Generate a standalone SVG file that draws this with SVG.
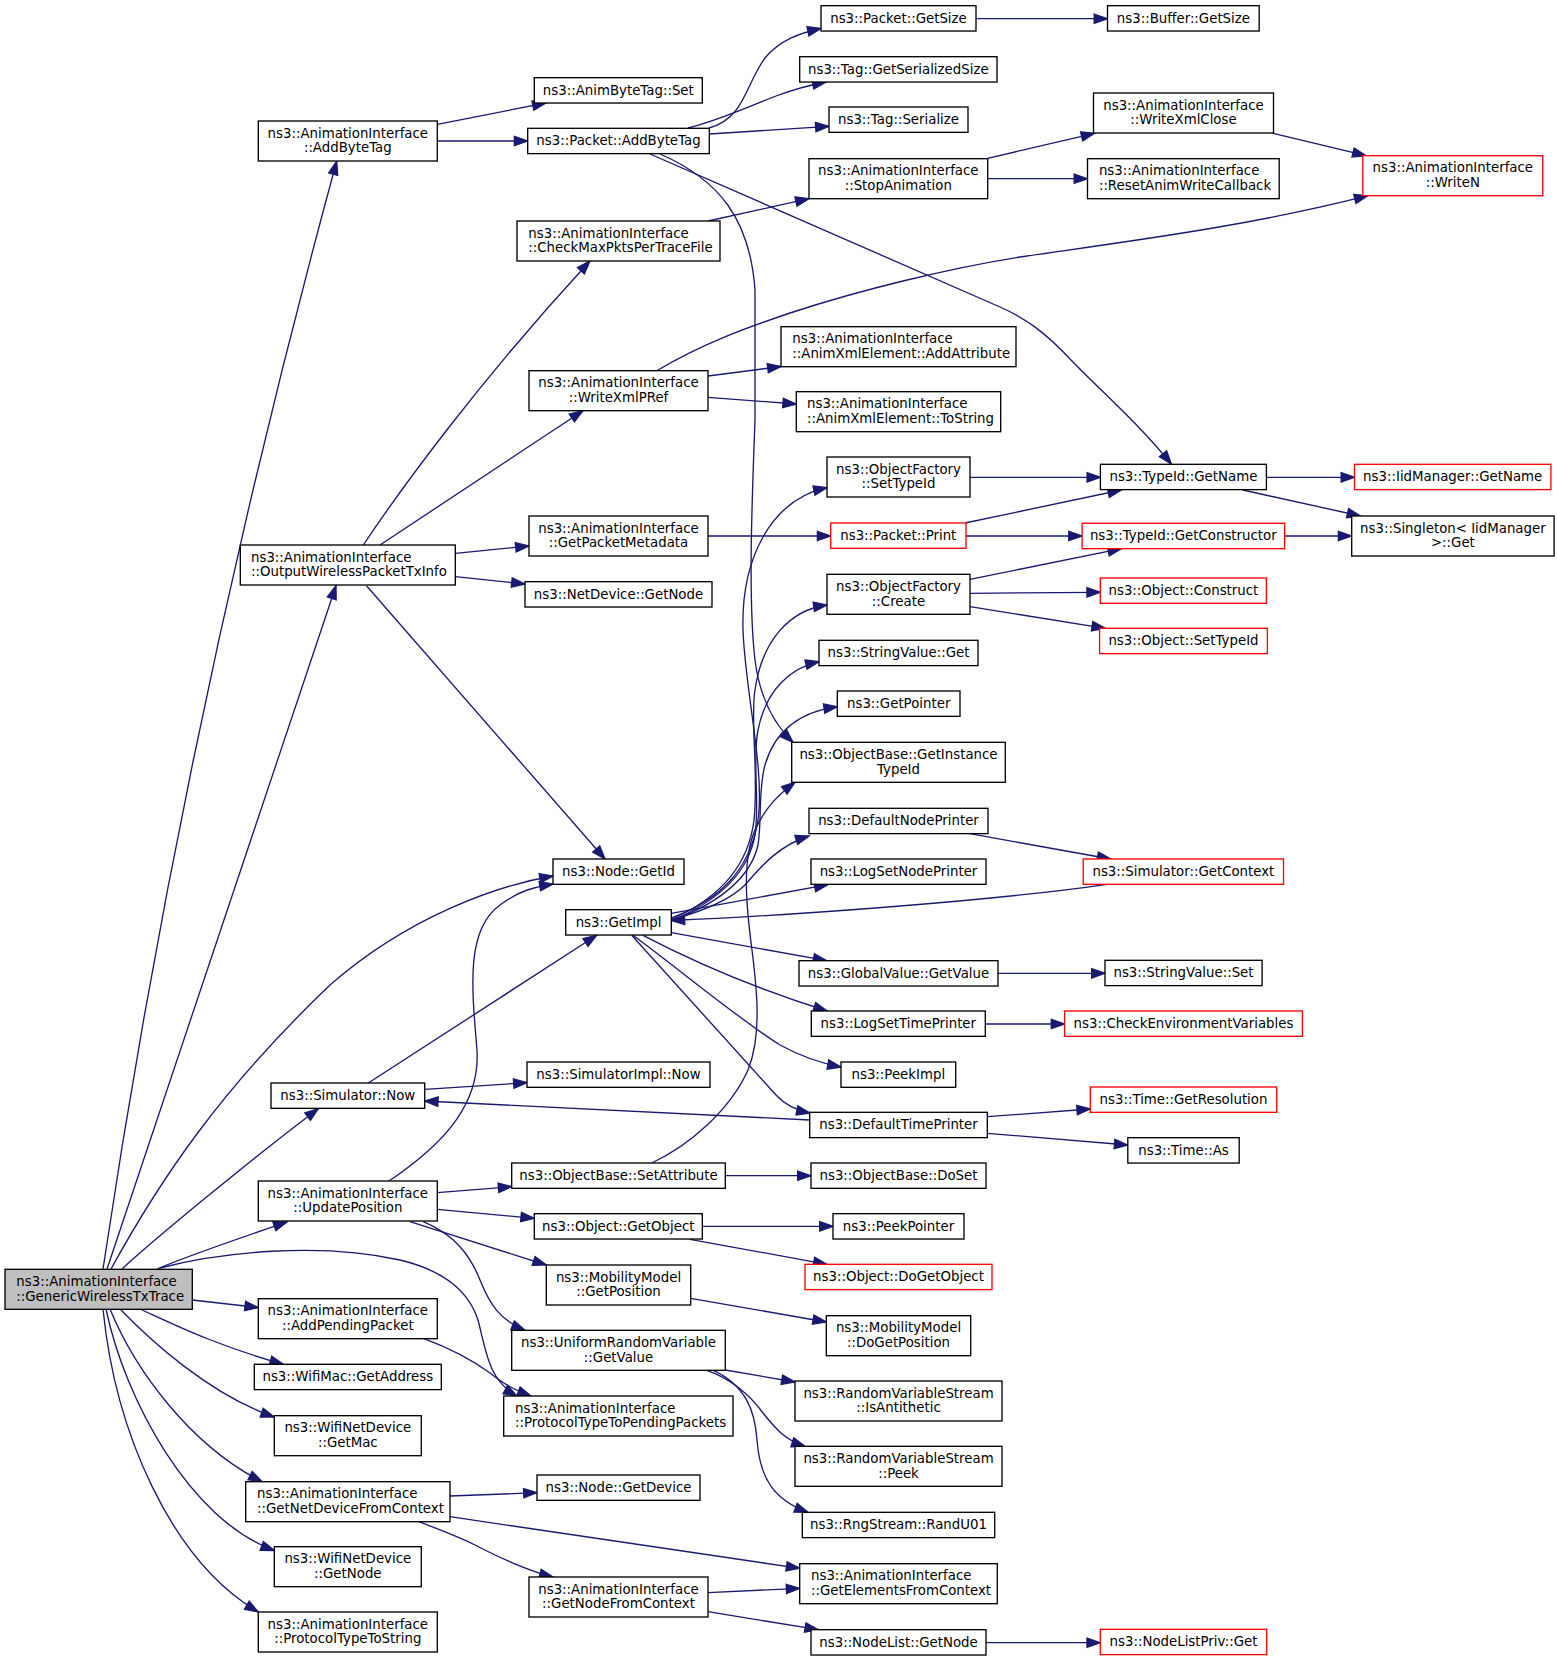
<svg xmlns="http://www.w3.org/2000/svg" width="1557" height="1661" viewBox="0 0 1557 1661">
<style>
.n rect{fill:#fff;stroke:#000;stroke-width:1.33}
.n.r rect{stroke:#ff0000}
.n.g rect{fill:#bfbfbf}
text{font-family:"DejaVu Sans","Liberation Sans",sans-serif;font-size:13.33px;fill:#000}
.c{text-anchor:middle}
#edges path{fill:none;stroke:#191970;stroke-width:1.33;marker-end:url(#a)}
</style>
<defs>
<marker id="a" markerUnits="userSpaceOnUse" markerWidth="16" markerHeight="12" viewBox="-1 -6 16 12" refX="13.33" refY="0" orient="auto" overflow="visible"><path d="M0,-4.67L13.33,0L0,4.67z" fill="#191970" stroke="#191970" stroke-width="1.33"/></marker>
</defs>
<rect width="1557" height="1661" fill="#fff"/>
<g id="edges">
<path d="M103,1269 C158,900 236,530 336.7,161.3"/>
<path d="M107,1269 L336,585.7"/>
<path d="M111,1269 C160,1180 220,1090 330,985 C410,915 500,885 553,876"/>
<path d="M122,1269 C150,1243 250,1160 318.3,1108.7"/>
<path d="M157,1269 C190,1255 240,1238 287,1222"/>
<path d="M160,1268 C220,1252 320,1242 400,1260 C450,1272 470,1295 478,1320 C486,1350 488,1380 517,1396"/>
<path d="M192.3,1300 L258.3,1307.5"/>
<path d="M140,1309 C175,1325 215,1345 283.3,1364.3"/>
<path d="M120,1309 C150,1340 210,1395 274.3,1417"/>
<path d="M110,1309 C135,1370 190,1445 262,1481.7"/>
<path d="M106,1309 C125,1400 190,1520 274.3,1550.5"/>
<path d="M103,1309 C115,1430 170,1560 258.3,1612"/>
<path d="M437.3,124.3 L546,103"/>
<path d="M437.3,141 L527.7,141"/>
<path d="M709,128 C745,118 745,85 765,58 C780,40 800,33 821,28.5"/>
<path d="M688,128 C720,120 745,108 776,96 C795,89 810,85 826,82"/>
<path d="M709.3,134 L829,126.3"/>
<path d="M660,154 C720,180 750,220 755,290 L755,420 C752,500 748,600 755,660 C760,700 775,725 793,742.3"/>
<path d="M650,154 L1000,307 C1025,318 1045,332 1071,360 C1105,395 1140,425 1171.4,464.3"/>
<path d="M708,221 L809,198.7"/>
<path d="M987.7,158.3 L1094.6,133.3"/>
<path d="M987.7,178.7 L1087.5,178.7"/>
<path d="M1273.2,133.3 L1366,155.7"/>
<path d="M656.7,370.7 C700,345 740,330 790,313 C860,290 950,268 1020,257 C1130,241 1250,226 1367.8,195.7"/>
<path d="M708,376 L781,366.5"/>
<path d="M708,397.3 L796.3,404"/>
<path d="M363.3,545 C400,490 480,380 590,261"/>
<path d="M380,545 L583,410.7"/>
<path d="M455.3,553.3 L529,546"/>
<path d="M455.3,576.7 L525,584"/>
<path d="M366.7,586 L605,859"/>
<path d="M708,536 L830.7,536"/>
<path d="M965,523 L1121.4,490"/>
<path d="M966,536 L1082.1,536"/>
<path d="M970,477.3 L1100.4,477.3"/>
<path d="M970,579.3 L1121.4,548.7"/>
<path d="M970,593.3 L1100.3,592.3"/>
<path d="M970,606.7 L1105.3,628.3"/>
<path d="M1266.4,477.3 L1354.5,477.3"/>
<path d="M1242.8,490 L1360.6,516"/>
<path d="M1284.6,536 L1351.7,536"/>
<path d="M976,18.7 L1107.5,18.7"/>
<path d="M671,918 C720,900 750,870 758,820 C765,770 745,690 743,630 C741,560 770,500 827,487.7"/>
<path d="M672,919 C715,900 748,870 754,820 C759,775 750,720 755,690 C762,640 790,610 827,605"/>
<path d="M673,920 C715,902 748,875 755,835 C760,800 752,760 758,730 C766,690 790,668 819,661.7"/>
<path d="M674,920 C715,904 750,880 758,845 C762,820 758,790 765,765 C775,730 800,712 837.3,706.7"/>
<path d="M671,920 C700,912 730,900 745,885 C762,865 780,845 809,836"/>
<path d="M671.3,913.3 L828,884.7"/>
<path d="M671.3,932.7 L826.7,960.7"/>
<path d="M643,935.3 C700,965 760,990 827,1011"/>
<path d="M633,935.3 C680,970 740,1020 780,1045 C800,1056 820,1063 841,1067"/>
<path d="M631.7,935.3 L776,1095 C785,1105 795,1110 810,1113"/>
<path d="M1107.1,884.3 C1000,900 800,915 671.3,920.5"/>
<path d="M368.3,1083 L596.7,935.3"/>
<path d="M424.7,1089.3 L527,1082.7"/>
<path d="M809.7,1120 L424.7,1101"/>
<path d="M987.3,1116.7 L1090.3,1109"/>
<path d="M987.3,1133.3 L1127.8,1145"/>
<path d="M970,833.7 L1110.7,859"/>
<path d="M998,973.3 L1105,973.3"/>
<path d="M985.3,1024 L1064.6,1024"/>
<path d="M389,1181 C450,1140 480,1100 477,1050 C472,990 465,930 500,905 C520,890 535,887 553,884"/>
<path d="M437.3,1192.7 L511.7,1186.7"/>
<path d="M437.3,1209.3 L534.3,1218.3"/>
<path d="M410,1221.7 L546.3,1265"/>
<path d="M423.3,1221.7 C455,1235 470,1255 480,1280 C490,1305 500,1320 525,1330.3"/>
<path d="M725.3,1175.7 L811,1175.7"/>
<path d="M651.7,1163 C690,1145 730,1110 748,1070 C762,1035 757,990 752,950 C746,905 742,860 755,830 C765,808 778,795 795,782.3"/>
<path d="M702.3,1226.3 L833,1226.3"/>
<path d="M690,1239.3 L827,1264.3"/>
<path d="M690.7,1298.3 L826.3,1322"/>
<path d="M725.3,1370 L795,1382"/>
<path d="M706.7,1370.3 C730,1378 750,1395 763,1413 C775,1428 785,1440 805,1446.3"/>
<path d="M713.3,1370.3 C745,1385 755,1410 757,1440 C760,1480 775,1500 808,1512.3"/>
<path d="M423.3,1338.3 C455,1350 475,1362 490,1373 C505,1385 515,1390 531,1396"/>
<path d="M450,1496 L537,1492.7"/>
<path d="M450,1516.7 L799.7,1568.3"/>
<path d="M418.3,1521.3 C440,1530 455,1535 475,1545 C500,1558 525,1570 553,1577"/>
<path d="M708,1592.7 L799.7,1588.3"/>
<path d="M708,1611.7 L818.3,1629.7"/>
<path d="M986,1642.7 L1100.3,1642.7"/>
</g>
<g id="n_generic" class="n g"><rect x="5" y="1269.3" width="187.3" height="40"/><text x="16.3" y="1286">ns3::AnimationInterface</text><text x="16.3" y="1300.7">::GenericWirelessTxTrace</text></g>
<g id="n_addbytetag" class="n"><rect x="258.3" y="121" width="179" height="40"/><text class="c" x="347.8" y="137.7">ns3::AnimationInterface</text><text class="c" x="347.8" y="152.4">::AddByteTag</text></g>
<g id="n_animbytetagset" class="n"><rect x="534.3" y="77.7" width="168" height="25.33"/><text class="c" x="618.3" y="94.5">ns3::AnimByteTag::Set</text></g>
<g id="n_packetaddbytetag" class="n"><rect x="527.7" y="128.3" width="181.6" height="25.33"/><text class="c" x="618.5" y="145.1">ns3::Packet::AddByteTag</text></g>
<g id="n_packetgetsize" class="n"><rect x="821" y="5.7" width="155" height="25.33"/><text class="c" x="898.5" y="22.5">ns3::Packet::GetSize</text></g>
<g id="n_taggetserializedsize" class="n"><rect x="799.7" y="56.7" width="197.3" height="25.33"/><text class="c" x="898.3" y="73.5">ns3::Tag::GetSerializedSize</text></g>
<g id="n_tagserialize" class="n"><rect x="829" y="107" width="139" height="25.33"/><text class="c" x="898.5" y="123.8">ns3::Tag::Serialize</text></g>
<g id="n_buffergetsize" class="n"><rect x="1107.5" y="5.7" width="151.7" height="25.33"/><text class="c" x="1183.4" y="22.5">ns3::Buffer::GetSize</text></g>
<g id="n_stopanimation" class="n"><rect x="809" y="158.7" width="178.7" height="40"/><text class="c" x="898.3" y="175.4">ns3::AnimationInterface</text><text class="c" x="898.3" y="190.1">::StopAnimation</text></g>
<g id="n_checkmaxpkts" class="n"><rect x="517" y="221" width="203" height="40"/><text x="528.3" y="237.7">ns3::AnimationInterface</text><text x="528.3" y="252.4">::CheckMaxPktsPerTraceFile</text></g>
<g id="n_writexmlclose" class="n"><rect x="1093.5" y="93" width="180" height="40"/><text class="c" x="1183.5" y="109.7">ns3::AnimationInterface</text><text class="c" x="1183.5" y="124.4">::WriteXmlClose</text></g>
<g id="n_resetanim" class="n"><rect x="1087.5" y="158.7" width="191.7" height="40"/><text x="1098.9" y="175.4">ns3::AnimationInterface</text><text x="1098.9" y="190.1">::ResetAnimWriteCallback</text></g>
<g id="n_writen" class="n r"><rect x="1362.8" y="155.7" width="180" height="40"/><text class="c" x="1452.8" y="172.4">ns3::AnimationInterface</text><text class="c" x="1452.8" y="187.1">::WriteN</text></g>
<g id="n_addattribute" class="n"><rect x="781" y="326.7" width="235" height="40"/><text x="792.3" y="343.4">ns3::AnimationInterface</text><text x="792.3" y="358.1">::AnimXmlElement::AddAttribute</text></g>
<g id="n_writexmlpref" class="n"><rect x="529" y="370.7" width="179" height="40"/><text class="c" x="618.5" y="387.4">ns3::AnimationInterface</text><text class="c" x="618.5" y="402.1">::WriteXmlPRef</text></g>
<g id="n_tostring" class="n"><rect x="796.3" y="391.7" width="204.4" height="40"/><text x="807" y="408.4">ns3::AnimationInterface</text><text x="807" y="423.1">::AnimXmlElement::ToString</text></g>
<g id="n_outputwireless" class="n"><rect x="240.3" y="545" width="215" height="40"/><text x="251" y="561.7">ns3::AnimationInterface</text><text x="251" y="576.4">::OutputWirelessPacketTxInfo</text></g>
<g id="n_ofsettypeid" class="n"><rect x="827" y="457" width="143" height="40"/><text class="c" x="898.5" y="473.7">ns3::ObjectFactory</text><text class="c" x="898.5" y="488.4">::SetTypeId</text></g>
<g id="n_getpacketmetadata" class="n"><rect x="529" y="516" width="179" height="40"/><text class="c" x="618.5" y="532.7">ns3::AnimationInterface</text><text class="c" x="618.5" y="547.4">::GetPacketMetadata</text></g>
<g id="n_packetprint" class="n r"><rect x="830.7" y="523" width="135.3" height="25.33"/><text class="c" x="898.3" y="539.8">ns3::Packet::Print</text></g>
<g id="n_netdevicegetnode" class="n"><rect x="525" y="581.7" width="187" height="25.33"/><text class="c" x="618.5" y="598.5">ns3::NetDevice::GetNode</text></g>
<g id="n_ofcreate" class="n"><rect x="827" y="574.3" width="143" height="40"/><text class="c" x="898.5" y="591">ns3::ObjectFactory</text><text class="c" x="898.5" y="605.7">::Create</text></g>
<g id="n_stringvalueget" class="n"><rect x="819" y="640.3" width="159" height="25.33"/><text class="c" x="898.5" y="657.1">ns3::StringValue::Get</text></g>
<g id="n_getpointer" class="n"><rect x="837.3" y="691" width="122.7" height="25.33"/><text class="c" x="898.7" y="707.8">ns3::GetPointer</text></g>
<g id="n_getinstancetypeid" class="n"><rect x="791.7" y="742.3" width="213.6" height="40"/><text class="c" x="898.5" y="759">ns3::ObjectBase::GetInstance</text><text class="c" x="898.5" y="773.7">TypeId</text></g>
<g id="n_defaultnodeprinter" class="n"><rect x="809" y="808.3" width="179" height="25.33"/><text class="c" x="898.5" y="825.1">ns3::DefaultNodePrinter</text></g>
<g id="n_typeidgetname" class="n"><rect x="1100.4" y="464.3" width="166" height="25.33"/><text class="c" x="1183.4" y="481.1">ns3::TypeId::GetName</text></g>
<g id="n_iidmanagergetname" class="n r"><rect x="1354.5" y="464.3" width="196.4" height="25.33"/><text class="c" x="1452.7" y="481.1">ns3::IidManager::GetName</text></g>
<g id="n_typeidgetconstructor" class="n r"><rect x="1082.1" y="523.3" width="202.5" height="25.33"/><text class="c" x="1183.3" y="540.1">ns3::TypeId::GetConstructor</text></g>
<g id="n_singletonget" class="n"><rect x="1351.7" y="516" width="202.4" height="40"/><text class="c" x="1452.9" y="532.7">ns3::Singleton&lt; IidManager</text><text class="c" x="1452.9" y="547.4">&gt;::Get</text></g>
<g id="n_objectconstruct" class="n r"><rect x="1100.3" y="578" width="166.1" height="25.33"/><text class="c" x="1183.4" y="594.8">ns3::Object::Construct</text></g>
<g id="n_objectsettypeid" class="n r"><rect x="1099.6" y="628.3" width="167.8" height="25.33"/><text class="c" x="1183.5" y="645.1">ns3::Object::SetTypeId</text></g>
<g id="n_nodegetid" class="n"><rect x="553" y="859" width="131" height="25.33"/><text class="c" x="618.5" y="875.8">ns3::Node::GetId</text></g>
<g id="n_logsetnodeprinter" class="n"><rect x="811" y="859" width="175" height="25.33"/><text class="c" x="898.5" y="875.8">ns3::LogSetNodePrinter</text></g>
<g id="n_getimpl" class="n"><rect x="565.7" y="909.7" width="105.6" height="25.33"/><text class="c" x="618.5" y="926.5">ns3::GetImpl</text></g>
<g id="n_simgetcontext" class="n r"><rect x="1083.2" y="859" width="200.3" height="25.33"/><text class="c" x="1183.4" y="875.8">ns3::Simulator::GetContext</text></g>
<g id="n_globalvaluegetvalue" class="n"><rect x="799" y="960.7" width="199" height="25.33"/><text class="c" x="898.5" y="977.5">ns3::GlobalValue::GetValue</text></g>
<g id="n_stringvalueset" class="n"><rect x="1105" y="960.3" width="157.1" height="25.33"/><text class="c" x="1183.5" y="977.1">ns3::StringValue::Set</text></g>
<g id="n_logsettimeprinter" class="n"><rect x="811.3" y="1011" width="174" height="25.33"/><text class="c" x="898.3" y="1027.8">ns3::LogSetTimePrinter</text></g>
<g id="n_checkenv" class="n r"><rect x="1064.6" y="1011" width="237.8" height="25.33"/><text class="c" x="1183.5" y="1027.8">ns3::CheckEnvironmentVariables</text></g>
<g id="n_simimplnow" class="n"><rect x="527" y="1062" width="183" height="25.33"/><text class="c" x="618.5" y="1078.8">ns3::SimulatorImpl::Now</text></g>
<g id="n_peekimpl" class="n"><rect x="841" y="1062" width="114.7" height="25.33"/><text class="c" x="898.3" y="1078.8">ns3::PeekImpl</text></g>
<g id="n_simnow" class="n"><rect x="271" y="1083" width="153.7" height="25.33"/><text class="c" x="347.8" y="1099.8">ns3::Simulator::Now</text></g>
<g id="n_defaulttimeprinter" class="n"><rect x="809.7" y="1112.3" width="177.6" height="25.33"/><text class="c" x="898.5" y="1129.1">ns3::DefaultTimePrinter</text></g>
<g id="n_timegetresolution" class="n r"><rect x="1090.3" y="1087" width="186.4" height="25.33"/><text class="c" x="1183.5" y="1103.8">ns3::Time::GetResolution</text></g>
<g id="n_timeas" class="n"><rect x="1127.8" y="1137.7" width="111.4" height="25.33"/><text class="c" x="1183.5" y="1154.5">ns3::Time::As</text></g>
<g id="n_setattribute" class="n"><rect x="511.7" y="1163" width="213.6" height="25.33"/><text class="c" x="618.5" y="1179.8">ns3::ObjectBase::SetAttribute</text></g>
<g id="n_doset" class="n"><rect x="811" y="1163" width="175" height="25.33"/><text class="c" x="898.5" y="1179.8">ns3::ObjectBase::DoSet</text></g>
<g id="n_updateposition" class="n"><rect x="258.3" y="1181" width="179" height="40"/><text class="c" x="347.8" y="1197.7">ns3::AnimationInterface</text><text class="c" x="347.8" y="1212.4">::UpdatePosition</text></g>
<g id="n_getobject" class="n"><rect x="534.3" y="1213.7" width="168" height="25.33"/><text class="c" x="618.3" y="1230.5">ns3::Object::GetObject</text></g>
<g id="n_peekpointer" class="n"><rect x="833" y="1213.7" width="131" height="25.33"/><text class="c" x="898.5" y="1230.5">ns3::PeekPointer</text></g>
<g id="n_dogetobject" class="n r"><rect x="805" y="1264.3" width="187" height="25.33"/><text class="c" x="898.5" y="1281.1">ns3::Object::DoGetObject</text></g>
<g id="n_mmgetposition" class="n"><rect x="546.3" y="1265" width="144.4" height="40"/><text class="c" x="618.5" y="1281.7">ns3::MobilityModel</text><text class="c" x="618.5" y="1296.4">::GetPosition</text></g>
<g id="n_mmdogetposition" class="n"><rect x="826.3" y="1315.7" width="144.4" height="40"/><text class="c" x="898.5" y="1332.4">ns3::MobilityModel</text><text class="c" x="898.5" y="1347.1">::DoGetPosition</text></g>
<g id="n_urvgetvalue" class="n"><rect x="511.7" y="1330.3" width="213.6" height="40"/><text class="c" x="618.5" y="1347">ns3::UniformRandomVariable</text><text class="c" x="618.5" y="1361.7">::GetValue</text></g>
<g id="n_isantithetic" class="n"><rect x="795" y="1381" width="207" height="40"/><text class="c" x="898.5" y="1397.7">ns3::RandomVariableStream</text><text class="c" x="898.5" y="1412.4">::IsAntithetic</text></g>
<g id="n_addpendingpacket" class="n"><rect x="258.3" y="1298.7" width="179" height="40"/><text class="c" x="347.8" y="1315.4">ns3::AnimationInterface</text><text class="c" x="347.8" y="1330.1">::AddPendingPacket</text></g>
<g id="n_wifimacgetaddress" class="n"><rect x="254.3" y="1364.3" width="187" height="25.33"/><text class="c" x="347.8" y="1381.1">ns3::WifiMac::GetAddress</text></g>
<g id="n_protoPending" class="n"><rect x="503.7" y="1396" width="229.3" height="40"/><text x="515" y="1412.7">ns3::AnimationInterface</text><text x="515" y="1427.4">::ProtocolTypeToPendingPackets</text></g>
<g id="n_peek" class="n"><rect x="795" y="1446.3" width="207" height="40"/><text class="c" x="898.5" y="1463">ns3::RandomVariableStream</text><text class="c" x="898.5" y="1477.7">::Peek</text></g>
<g id="n_nodegetdevice" class="n"><rect x="537" y="1475" width="163" height="25.33"/><text class="c" x="618.5" y="1491.8">ns3::Node::GetDevice</text></g>
<g id="n_wndgetmac" class="n"><rect x="274.3" y="1415.7" width="147" height="40"/><text class="c" x="347.8" y="1432.4">ns3::WifiNetDevice</text><text class="c" x="347.8" y="1447.1">::GetMac</text></g>
<g id="n_getnetdevice" class="n"><rect x="245.7" y="1481.7" width="204.3" height="40"/><text x="257" y="1498.4">ns3::AnimationInterface</text><text x="257" y="1513.1">::GetNetDeviceFromContext</text></g>
<g id="n_randu01" class="n"><rect x="802.3" y="1512.3" width="192.4" height="25.33"/><text class="c" x="898.5" y="1529.1">ns3::RngStream::RandU01</text></g>
<g id="n_wndgetnode" class="n"><rect x="274.3" y="1546.7" width="147" height="40"/><text class="c" x="347.8" y="1563.4">ns3::WifiNetDevice</text><text class="c" x="347.8" y="1578.1">::GetNode</text></g>
<g id="n_getelements" class="n"><rect x="799.7" y="1563.7" width="197.6" height="40"/><text x="811" y="1580.4">ns3::AnimationInterface</text><text x="811" y="1595.1">::GetElementsFromContext</text></g>
<g id="n_getnodefromcontext" class="n"><rect x="529" y="1577" width="179" height="40"/><text class="c" x="618.5" y="1593.7">ns3::AnimationInterface</text><text class="c" x="618.5" y="1608.4">::GetNodeFromContext</text></g>
<g id="n_prototostring" class="n"><rect x="258.3" y="1612" width="179" height="40"/><text class="c" x="347.8" y="1628.7">ns3::AnimationInterface</text><text class="c" x="347.8" y="1643.4">::ProtocolTypeToString</text></g>
<g id="n_nodelistgetnode" class="n"><rect x="811" y="1629.7" width="175" height="25.33"/><text class="c" x="898.5" y="1646.5">ns3::NodeList::GetNode</text></g>
<g id="n_nodelistprivget" class="n r"><rect x="1100.3" y="1629.3" width="166.4" height="25.33"/><text class="c" x="1183.5" y="1646.1">ns3::NodeListPriv::Get</text></g>
</svg>
